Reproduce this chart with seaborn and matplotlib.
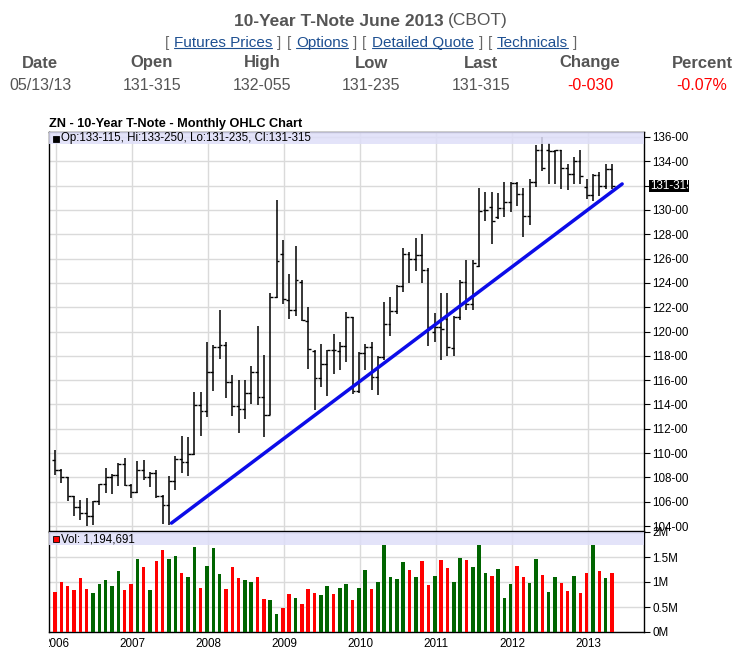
import matplotlib
matplotlib.use("Agg")
import matplotlib.pyplot as plt
from matplotlib.patches import Rectangle
from matplotlib.lines import Line2D
from matplotlib.transforms import Bbox, TransformedBbox, blended_transform_factory
import seaborn as sns
import numpy as np
import pandas as pd

# monthly bars, Jan 2006 .. May 2013
months = pd.date_range("2006-01-01", "2013-05-01", freq="MS")
opens = [109.45, 108.58, 108.03, 106.44, 105.56, 105.07, 104.85, 106.03, 107.48, 108.08,
         108.22, 109.12, 107.40, 106.77, 108.63, 108.08, 108.40, 106.44, 105.75, 107.70,
         109.50, 109.30, 109.97, 113.93, 113.44, 116.66, 118.70, 118.90, 115.84, 113.85,
         113.60, 114.94, 116.66, 114.60, 113.10, 122.86, 126.36, 122.60, 121.80, 124.10,
         120.90, 118.40, 116.20, 117.30, 118.50, 118.40, 118.80, 121.18, 115.11, 118.20,
         118.70, 116.26, 117.90, 120.60, 121.70, 123.70, 126.40, 126.00, 126.30, 125.06,
         120.00, 120.40, 121.00, 118.65, 121.20, 124.06, 122.30, 125.40, 129.95, 130.20,
         129.45, 130.14, 130.63, 132.20, 131.30, 129.50, 132.27, 134.96, 134.88, 134.80,
         134.90, 133.45, 132.96, 134.00, 131.86, 131.26, 132.90, 132.00, 133.36]
highs = [110.27, 108.68, 108.08, 106.44, 106.16, 106.30, 106.03, 107.48, 108.77, 108.27,
         109.23, 109.59, 107.48, 109.32, 109.40, 108.49, 108.58, 106.58, 108.10, 109.80,
         111.40, 111.30, 115.06, 115.02, 119.17, 118.85, 121.80, 119.10, 116.40, 115.98,
         116.03, 117.20, 120.49, 118.03, 123.20, 130.80, 127.50, 124.70, 127.00, 124.23,
         122.04, 118.45, 119.00, 118.52, 119.80, 119.13, 121.64, 121.18, 118.31, 118.94,
         119.13, 117.98, 122.46, 122.87, 123.86, 126.86, 126.50, 127.68, 128.00, 125.20,
         121.50, 123.15, 123.15, 121.24, 124.25, 125.90, 125.90, 131.77, 131.45, 131.45,
         131.37, 132.27, 132.27, 132.30, 131.80, 132.55, 135.30, 135.97, 135.48, 134.93,
         134.90, 133.78, 134.38, 134.93, 132.55, 132.96, 133.15, 133.78, 133.78]
lows = [108.22, 107.53, 106.10, 104.85, 104.52, 103.97, 104.10, 105.75, 106.71, 106.63,
        107.26, 107.32, 106.30, 106.71, 107.81, 107.21, 106.30, 104.16, 104.10, 107.00,
        108.40, 108.10, 109.86, 111.40, 112.97, 115.10, 117.75, 114.56, 113.05, 111.66,
        112.84, 114.07, 113.93, 111.33, 113.10, 122.75, 122.30, 121.00, 121.30, 120.90,
        116.93, 113.57, 115.40, 114.67, 116.50, 116.80, 117.49, 114.90, 114.95, 116.80,
        115.17, 114.80, 117.63, 119.62, 121.45, 123.23, 123.97, 125.00, 123.97, 118.80,
        119.17, 117.67, 117.95, 117.95, 120.97, 121.80, 121.80, 125.33, 129.10, 127.20,
        129.26, 129.45, 129.80, 130.35, 127.75, 128.77, 131.86, 133.23, 132.14, 132.14,
        131.70, 131.60, 132.14, 132.14, 130.90, 130.70, 131.10, 131.73, 131.73]
closes = [108.58, 108.03, 106.44, 105.56, 105.07, 104.85, 106.03, 107.48, 108.08, 108.22,
          109.12, 107.40, 106.77, 108.63, 108.08, 108.40, 106.44, 105.75, 107.70, 109.50,
          109.30, 109.90, 113.93, 113.44, 116.66, 118.70, 118.90, 115.84, 113.85, 113.60,
          114.94, 116.66, 114.60, 113.10, 122.80, 125.76, 122.67, 121.77, 124.20, 120.95,
          118.57, 116.20, 117.30, 118.50, 118.44, 118.80, 121.18, 115.11, 118.26, 118.72,
          116.26, 117.90, 120.63, 121.70, 123.70, 126.40, 126.00, 126.30, 125.06, 120.40,
          120.40, 120.20, 118.70, 121.20, 124.06, 122.30, 125.60, 129.90, 130.00, 129.07,
          130.14, 130.63, 132.20, 131.30, 129.50, 132.27, 134.96, 133.45, 134.82, 134.90,
          133.45, 132.96, 134.05, 132.80, 131.26, 132.90, 132.00, 133.37, 131.98]
volume_m = [0.81, 1.00, 0.92, 0.84, 1.08, 0.86, 0.78, 0.96, 1.04, 0.92,
            1.22, 0.84, 0.96, 1.46, 1.30, 0.84, 1.42, 1.64, 1.46, 1.52,
            1.18, 1.10, 1.70, 0.88, 1.32, 1.68, 1.16, 0.86, 1.30, 1.08,
            1.04, 1.00, 1.10, 0.66, 0.64, 0.36, 0.48, 0.76, 0.68, 0.56,
            0.86, 0.78, 0.74, 0.92, 0.76, 0.88, 0.96, 0.64, 0.88, 1.24,
            0.86, 1.00, 1.75, 1.10, 1.06, 1.40, 1.24, 1.10, 1.42, 0.94,
            1.12, 1.44, 1.28, 1.00, 1.48, 1.44, 1.30, 1.74, 1.18, 1.12,
            1.26, 0.68, 0.96, 1.32, 1.10, 0.98, 1.46, 1.14, 0.80, 1.10,
            0.98, 0.82, 1.12, 0.78, 1.18, 1.75, 1.22, 1.08, 1.19]
# 1 = up month (green volume), 0 = down month (red volume)
vol_up = [0, 0, 0, 0, 0, 0, 1, 1, 1, 1,
          1, 0, 0, 1, 0, 1, 0, 0, 1, 1,
          0, 1, 1, 0, 1, 1, 1, 0, 0, 0,
          1, 1, 0, 0, 1, 1, 0, 0, 1, 0,
          0, 0, 1, 1, 0, 1, 1, 0, 1, 1,
          0, 1, 1, 1, 1, 1, 0, 1, 0, 0,
          1, 0, 0, 1, 1, 0, 1, 1, 1, 0,
          1, 1, 1, 0, 0, 1, 1, 0, 1, 1,
          0, 0, 1, 0, 0, 1, 0, 1, 0]
# trend line end points (month index, price)
trend_x = [18.4, 89.6]
trend_y = [104.25, 132.13]

years = [2006, 2007, 2008, 2009, 2010, 2011, 2012, 2013]
price_ticks = list(range(104, 137, 2))
vol_ticks = [0, 0.5, 1, 1.5, 2]
vol_tick_labels = ["0M", "0.5M", "1M", "1.5M", "2M"]

header_cols = ["Date", "Open", "High", "Low", "Last", "Change", "Percent"]
header_vals = ["05/13/13", "131-315", "132-055", "131-235", "131-315", "-0-030", "-0.07%"]
links = ["Futures Prices", "Options", "Detailed Quote", "Technicals"]
legend_text = "Op:133-115, Hi:133-250, Lo:131-235, Cl:131-315"
vol_text = "Vol: 1,194,691"
last_label = "131-315"

sns.set_theme(style="white")
plt.rcParams["font.family"] = ["Liberation Sans", "DejaVu Sans"]

W, H = 742, 651
fig = plt.figure(figsize=(W / 100, H / 100), dpi=100)


def fx(p):
    return p / W


def fy(p):
    return 1 - p / H


def px_axes(l, t, r, b):
    return fig.add_axes([l / W, 1 - b / H, (r - l) / W, (b - t) / H])


GREY = "#555555"
LINK = "#1d4f91"
GRID = "#dadada"

ax = px_axes(49, 132, 644, 531)
axv = px_axes(49, 532, 644, 632)

df = pd.DataFrame({"i": np.arange(len(months)), "open": opens, "high": highs,
                   "low": lows, "close": closes, "vol": volume_m,
                   "dir": np.where(np.array(vol_up) == 1, "up", "down")})

# --- price panel (OHLC bars) ---
ax.vlines(df["i"], df["low"], df["high"], color="black", lw=1.1, zorder=3)
ax.hlines(df["open"], df["i"] - 0.45, df["i"], color="black", lw=1.0, zorder=3)
ax.hlines(df["close"], df["i"], df["i"] + 0.45, color="black", lw=1.0, zorder=3)
sns.lineplot(x=trend_x, y=trend_y, ax=ax, color="#0c0ce8", lw=2.5,
             solid_capstyle="round", zorder=4)

# --- volume panel ---
sns.barplot(data=df, x="i", y="vol", hue="dir", native_scale=True, dodge=False,
            palette={"up": "#006400", "down": "#ff0000"}, width=0.55,
            saturation=1, linewidth=0, legend=False, ax=axv, zorder=3)

year_pos = [12 * (y - 2006) + 0.2 for y in years]
clip_bb = TransformedBbox(Bbox([[49 / W, 0], [688 / W, 1]]), fig.transFigure)

for a in (ax, axv):
    a.set_xlim(-0.95, 93.05)
    a.set_xticks(year_pos)
    a.grid(True, color=GRID, lw=1.0, zorder=0)
    a.set_axisbelow(True)
    a.set_xlabel("")
    a.set_ylabel("")
    for s in a.spines.values():
        s.set_visible(True)
        s.set_color("black")
        s.set_linewidth(1.0)
    a.yaxis.tick_right()
    a.tick_params(axis="y", right=True, left=False, length=4, width=0.8,
                  direction="out", pad=2, labelsize=8.4, colors="black")

ax.set_ylim(103.6, 136.4)
ax.set_yticks(price_ticks)
# the last-price tag covers the label nearest to the last close
ax.set_yticklabels(["" if abs(t - closes[-1]) < 1 else f"{t}-000" for t in price_ticks])
ax.tick_params(axis="x", bottom=False, labelbottom=False)

axv.set_ylim(0, 2.0)
axv.set_yticks(vol_ticks)
axv.set_yticklabels(vol_tick_labels)
axv.set_xticklabels([str(y) for y in years])
axv.tick_params(axis="x", bottom=False, length=0, pad=4, labelsize=8.4, colors="black")

# legend bands
ax.add_patch(Rectangle((0, 1 - 12 / 399), 1, 12 / 399, transform=ax.transAxes,
                       facecolor="#dedef8", alpha=0.85, lw=0, zorder=5))
axv.add_patch(Rectangle((0, 1 - 13 / 100), 1, 13 / 100, transform=axv.transAxes,
                        facecolor="#dedef8", alpha=0.85, lw=0, zorder=5))
fig.add_artist(Rectangle((fx(53), fy(141.5)), 6 / W, 6 / H, transform=fig.transFigure,
                         facecolor="black", edgecolor="black", lw=0.6))
fig.text(fx(61), fy(138.5), legend_text, va="center", ha="left", size=8.3, color="black")
fig.add_artist(Rectangle((fx(53), fy(542)), 6 / W, 6 / H, transform=fig.transFigure,
                         facecolor="#ff0000", edgecolor="black", lw=0.6))
fig.text(fx(61), fy(539), vol_text, va="center", ha="left", size=8.3, color="black")

# last price tag on the right axis
bt = blended_transform_factory(ax.transAxes, ax.transData)
ax.add_patch(Rectangle((1 + 5 / 595, closes[-1] - 6 / 12.17), 40 / 595, 12 / 12.17,
                       transform=bt, facecolor="black", lw=0, clip_on=False, zorder=6))
tag = ax.text(1 + 6 / 595, closes[-1], last_label, transform=bt, color="white",
              va="center", ha="left", size=8.4, zorder=7)
tag.set_clip_box(clip_bb)
tag.set_clip_on(True)

# chart caption
fig.text(fx(49), fy(124), "ZN - 10-Year T-Note - Monthly OHLC Chart", va="center",
         ha="left", size=9.2, weight="bold", color="black")

# --- page header ---
fig.canvas.draw()
renderer = fig.canvas.get_renderer()


def centered_row(pieces, cx, y, gap):
    texts = [fig.text(0, fy(y), txt, va="center", ha="left", **kw) for txt, kw in pieces]
    widths = [t.get_window_extent(renderer).width for t in texts]
    total = sum(widths) + gap * (len(texts) - 1)
    x = cx - total / 2
    for t, w in zip(texts, widths):
        t.set_x(fx(x))
        x += w + gap
    return texts


centered_row([("10-Year T-Note June 2013", dict(size=12.5, weight="bold", color=GREY)),
              ("(CBOT)", dict(size=12.5, color=GREY))], 371, 21, 4)

link_pieces = []
for name in links:
    link_pieces += [("[", dict(size=11, color="#666666")),
                    (name, dict(size=11, color=LINK)),
                    ("]", dict(size=11, color="#666666"))]
link_texts = centered_row(link_pieces, 371, 43, 5)
fig.canvas.draw()
for t in link_texts[1::3]:
    bb = t.get_window_extent(renderer)
    yl = (bb.y0 + 2) / H
    fig.add_artist(Line2D([bb.x0 / W, bb.x1 / W], [yl, yl], transform=fig.transFigure,
                          color=LINK, lw=0.8))

col_x = [40, 152, 262, 371, 481, 590, 702]
for cx, lab, val in zip(col_x, header_cols, header_vals):
    fig.text(fx(cx), fy(63), lab, ha="center", va="center", size=12,
             weight="bold", color=GREY)
    vcol = "#ff0000" if val.startswith("-") else GREY
    fig.text(fx(cx), fy(85), val, ha="center", va="center", size=11.5, color=vcol)

# clip tick labels to the chart image width
fig.canvas.draw()
for a in (ax, axv):
    for lab in a.get_yticklabels() + a.get_xticklabels():
        lab.set_clip_box(clip_bb)
        lab.set_clip_on(True)

fig.savefig("out.png", dpi=100)
